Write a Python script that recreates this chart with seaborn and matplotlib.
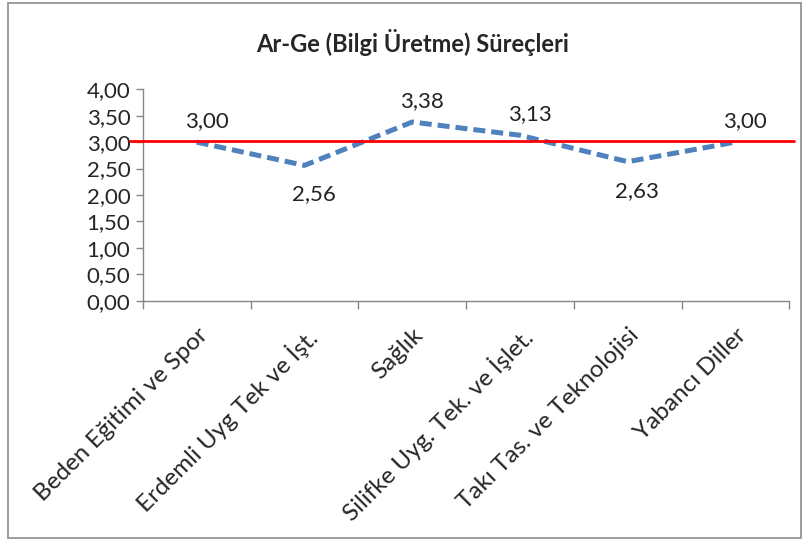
import matplotlib
matplotlib.use('Agg')
import matplotlib.pyplot as plt
import matplotlib.patches as mpatches
from matplotlib.ticker import FixedLocator, FuncFormatter
import seaborn as sns

# Data
categories = ['Beden Eğitimi ve Spor', 'Erdemli Uyg Tek ve İşt.', 'Sağlık',
              'Silifke Uyg. Tek. ve İşlet.', 'Takı Tas. ve Teknolojisi', 'Yabancı Diller']
values = [3.00, 2.56, 3.38, 3.13, 2.63, 3.00]
label_above = [True, False, True, True, False, True]
reference_level = 3.03
title = 'Ar-Ge (Bilgi Üretme) Süreçleri'

sns.set_style('white')
plt.rcParams['font.family'] = ['Lato', 'DejaVu Sans']

fig = plt.figure(figsize=(8.07, 5.44), dpi=100)
ax = fig.add_axes([0.177, 0.447, 0.801, 0.389])

sns.lineplot(x=categories, y=values, ax=ax, color='#4F81BD', linewidth=3.6,
             linestyle=(0, (2.4, 1.2)), sort=False)

# red reference line (runs slightly past the plot area, like the original)
ax.axhline(reference_level, xmin=-0.02, xmax=1.008, color='#FF0000',
           linewidth=2, clip_on=False, zorder=3)

for i, (v, up) in enumerate(zip(values, label_above)):
    txt = f'{v:.2f}'.replace('.', ',')
    ax.annotate(txt, (i, v), xytext=(7, 15 if up else -21), textcoords='offset points',
                ha='center', va='center', fontsize=16, color='#222222')

ax.set_xlim(-0.5, len(categories) - 0.5)
ax.set_ylim(0, 4)
ax.yaxis.set_major_locator(FixedLocator([i * 0.5 for i in range(9)]))
ax.yaxis.set_major_formatter(FuncFormatter(lambda y, _: f'{y:.2f}'.replace('.', ',')))
ax.tick_params(axis='y', labelsize=16, length=5, width=1, color='#868686',
               direction='out', left=True, pad=4)

ax.set_xticks(range(len(categories)))
ax.set_xticklabels(categories, rotation=45, ha='right', rotation_mode='anchor',
                   fontsize=17.5)
ax.tick_params(axis='x', length=0, pad=17)
ax.set_xticks([i - 0.5 for i in range(len(categories) + 1)], minor=True)
ax.tick_params(axis='x', which='minor', length=6, width=1, color='#868686',
               direction='out', bottom=True)

for s in ['top', 'right']:
    ax.spines[s].set_visible(False)
for s in ['left', 'bottom']:
    ax.spines[s].set_color('#868686')
    ax.spines[s].set_linewidth(1)

fig.text(0.511, 0.922, title, ha='center', va='center', fontsize=17,
         fontweight='bold')

# outer chart border
fig.patches.append(mpatches.Rectangle((0.010, 0.011), 0.982, 0.983,
                                      transform=fig.transFigure, fill=False,
                                      edgecolor='#8C8C8C', linewidth=1.2))

fig.savefig('out.png', dpi=100)
